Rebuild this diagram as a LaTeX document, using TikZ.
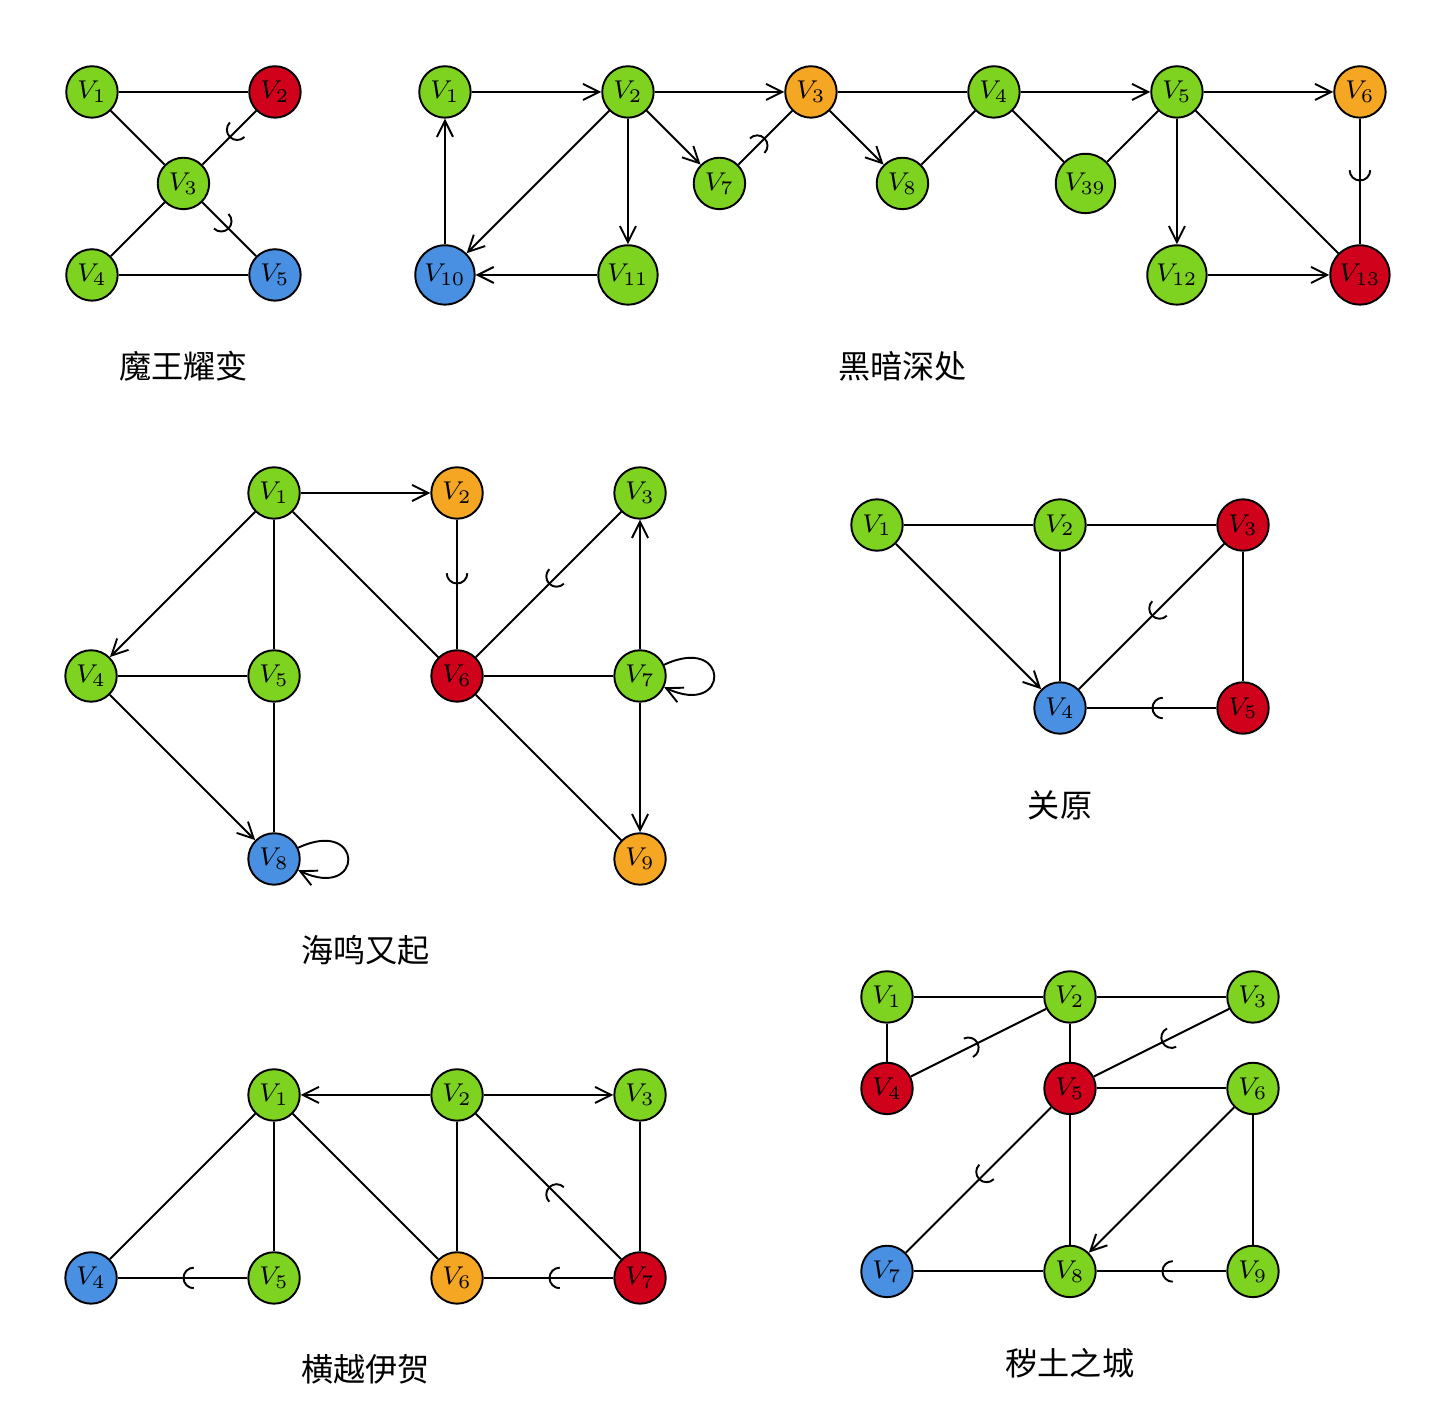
\documentclass[tikz,border=0pt]{standalone}
\usepackage{fontspec}
\newfontfamily\cjk{Noto Sans CJK SC}
\usepackage{tikz}
\usetikzlibrary{arrows.meta, decorations.markings}

\definecolor{vgreen}{HTML}{7ED321}
\definecolor{vred}{HTML}{D0021B}
\definecolor{vblue}{HTML}{4A90E2}
\definecolor{vorange}{HTML}{F5A623}

\begin{document}
\begin{tikzpicture}[semithick, >={Straight Barb[length=5pt,width=5pt]},
  vtx/.style={draw, circle, minimum size=16pt, inner sep=1.5pt, font=\footnotesize},
  gv/.style={vtx, fill=vgreen},
  rv/.style={vtx, fill=vred},
  bv/.style={vtx, fill=vblue},
  ov/.style={vtx, fill=vorange},
  gname/.style={font=\cjk},
  block/.style={postaction={decorate}, decoration={markings,
    mark=at position 0.5 with {\arrow{Arc Barb[width=7pt,length=3.5pt]}}}}]
\useasboundingbox (0,0) rectangle (15.738,-15.322);

% 魔王耀变
\begin{scope}[shift={(1.005,-1.005)}]
\node[gv] (a1) at (0,0) {$V_1$};
\node[rv] (a2) at (2,0) {$V_2$};
\node[gv] (a3) at (1,-1) {$V_3$};
\node[gv] (a4) at (0,-2) {$V_4$};
\node[bv] (a5) at (2,-2) {$V_5$};
\node[gname] (a0) at (1,-3) {魔王耀变};
\draw (a1) -- (a2);
\draw (a1) -- (a3);
\draw[block] (a2) -- (a3);
\draw (a3) -- (a4);
\draw[block] (a3) -- (a5);
\draw (a4) -- (a5);
\end{scope}

% 黑暗深处
\begin{scope}[shift={(4.863,-1.005)}]
\node[gv] (b1) at (0,0) {$V_1$};
\node[gv] (b2) at (2,0) {$V_2$};
\node[ov] (b3) at (4,0) {$V_3$};
\node[gv] (b4) at (6,0) {$V_4$};
\node[gv] (b5) at (8,0) {$V_5$};
\node[ov] (b6) at (10,0) {$V_6$};
\node[gv] (b7) at (3,-1) {$V_7$};
\node[gv] (b8) at (5,-1) {$V_8$};
\node[gv] (b39) at (7,-1) {$V_{39}$};
\node[bv] (b10) at (0,-2) {$V_{10}$};
\node[gv] (b11) at (2,-2) {$V_{11}$};
\node[gv] (b12) at (8,-2) {$V_{12}$};
\node[rv] (b13) at (10,-2) {$V_{13}$};
\node[gname] (b0) at (5,-3) {黑暗深处};
\draw[->] (b1) -- (b2);
\draw[->] (b2) -- (b3);
\draw (b3) -- (b4);
\draw[->] (b4) -- (b5);
\draw[->] (b5) -- (b6);
\draw[->] (b10) -- (b1);
\draw[->] (b2) -- (b10);
\draw[->] (b2) -- (b11);
\draw[->] (b11) -- (b10);
\draw[->] (b2) -- (b7);
\draw[block] (b7) -- (b3);
\draw[->] (b3) -- (b8);
\draw (b8) -- (b4);
\draw (b4) -- (b39);
\draw (b39) -- (b5);
\draw[->] (b5) -- (b12);
\draw (b5) -- (b13);
\draw[->] (b12) -- (b13);
\draw[block] (b6) -- (b13);
\end{scope}

% 海鸣又起
\begin{scope}[shift={(2.995,-5.388)}]
\node[gv] (c1) at (0,0) {$V_1$};
\node[ov] (c2) at (2,0) {$V_2$};
\node[gv] (c3) at (4,0) {$V_3$};
\node[gv] (c4) at (-2,-2) {$V_4$};
\node[gv] (c5) at (0,-2) {$V_5$};
\node[rv] (c6) at (2,-2) {$V_6$};
\node[gv] (c7) at (4,-2) {$V_7$};
\node[bv] (c8) at (0,-4) {$V_8$};
\node[ov] (c9) at (4,-4) {$V_9$};
\node[gname] (c0) at (1,-5) {海鸣又起};
\draw[->] (c1) -- (c2);
\draw[->] (c1) -- (c4);
\draw (c1) -- (c5);
\draw (c1) -- (c6);
\draw[block] (c2) -- (c6);
\draw[block] (c3) -- (c6);
\draw (c4) -- (c5);
\draw[->] (c4) -- (c8);
\draw (c5) -- (c8);
\draw (c6) -- (c7);
\draw (c6) -- (c9);
\draw[->] (c7) -- (c3);
\draw[->] (c7) -- (c9);
\draw[->] (c7) to[out=25, in=-25, min distance=8mm] (c7);
\draw[->] (c8) to[out=25, in=-25, min distance=8mm] (c8);
\end{scope}

% 关原
\begin{scope}[shift={(9.585,-5.738)}]
\node[gv] (d1) at (0,0) {$V_1$};
\node[gv] (d2) at (2,0) {$V_2$};
\node[rv] (d3) at (4,0) {$V_3$};
\node[bv] (d4) at (2,-2) {$V_4$};
\node[rv] (d5) at (4,-2) {$V_5$};
\node[gname] (d0) at (2,-3.06) {关原};
\draw (d1) -- (d2);
\draw (d2) -- (d3);
\draw[->] (d1) -- (d4);
\draw (d2) -- (d4);
\draw[block] (d3) -- (d4);
\draw (d3) -- (d5);
\draw[block] (d5) -- (d4);
\end{scope}

% 横越伊贺
\begin{scope}[shift={(2.995,-11.967)}]
\node[gv] (e1) at (0,0) {$V_1$};
\node[gv] (e2) at (2,0) {$V_2$};
\node[gv] (e3) at (4,0) {$V_3$};
\node[bv] (e4) at (-2,-2) {$V_4$};
\node[gv] (e5) at (0,-2) {$V_5$};
\node[ov] (e6) at (2,-2) {$V_6$};
\node[rv] (e7) at (4,-2) {$V_7$};
\node[gname] (e0) at (1,-3) {横越伊贺};
\draw[->] (e2) -- (e1);
\draw[->] (e2) -- (e3);
\draw (e1) -- (e4);
\draw (e1) -- (e5);
\draw (e1) -- (e6);
\draw (e2) -- (e6);
\draw[block] (e7) -- (e2);
\draw (e3) -- (e7);
\draw[block] (e5) -- (e4);
\draw[block] (e7) -- (e6);
\end{scope}

% 秽土之城
\begin{scope}[shift={(9.694,-10.896)}]
\node[gv] (f1) at (0,0) {$V_1$};
\node[gv] (f2) at (2,0) {$V_2$};
\node[gv] (f3) at (4,0) {$V_3$};
\node[rv] (f4) at (0,-1) {$V_4$};
\node[rv] (f5) at (2,-1) {$V_5$};
\node[gv] (f6) at (4,-1) {$V_6$};
\node[bv] (f7) at (0,-3) {$V_7$};
\node[gv] (f8) at (2,-3) {$V_8$};
\node[gv] (f9) at (4,-3) {$V_9$};
\node[gname] (f0) at (2,-4) {秽土之城};
\draw (f1) -- (f2);
\draw (f2) -- (f3);
\draw (f1) -- (f4);
\draw[block] (f4) -- (f2);
\draw (f2) -- (f5);
\draw[block] (f3) -- (f5);
\draw (f5) -- (f6);
\draw[block] (f5) -- (f7);
\draw (f5) -- (f8);
\draw[->] (f6) -- (f8);
\draw (f6) -- (f9);
\draw (f7) -- (f8);
\draw[block] (f9) -- (f8);
\end{scope}
\end{tikzpicture}
\end{document}
